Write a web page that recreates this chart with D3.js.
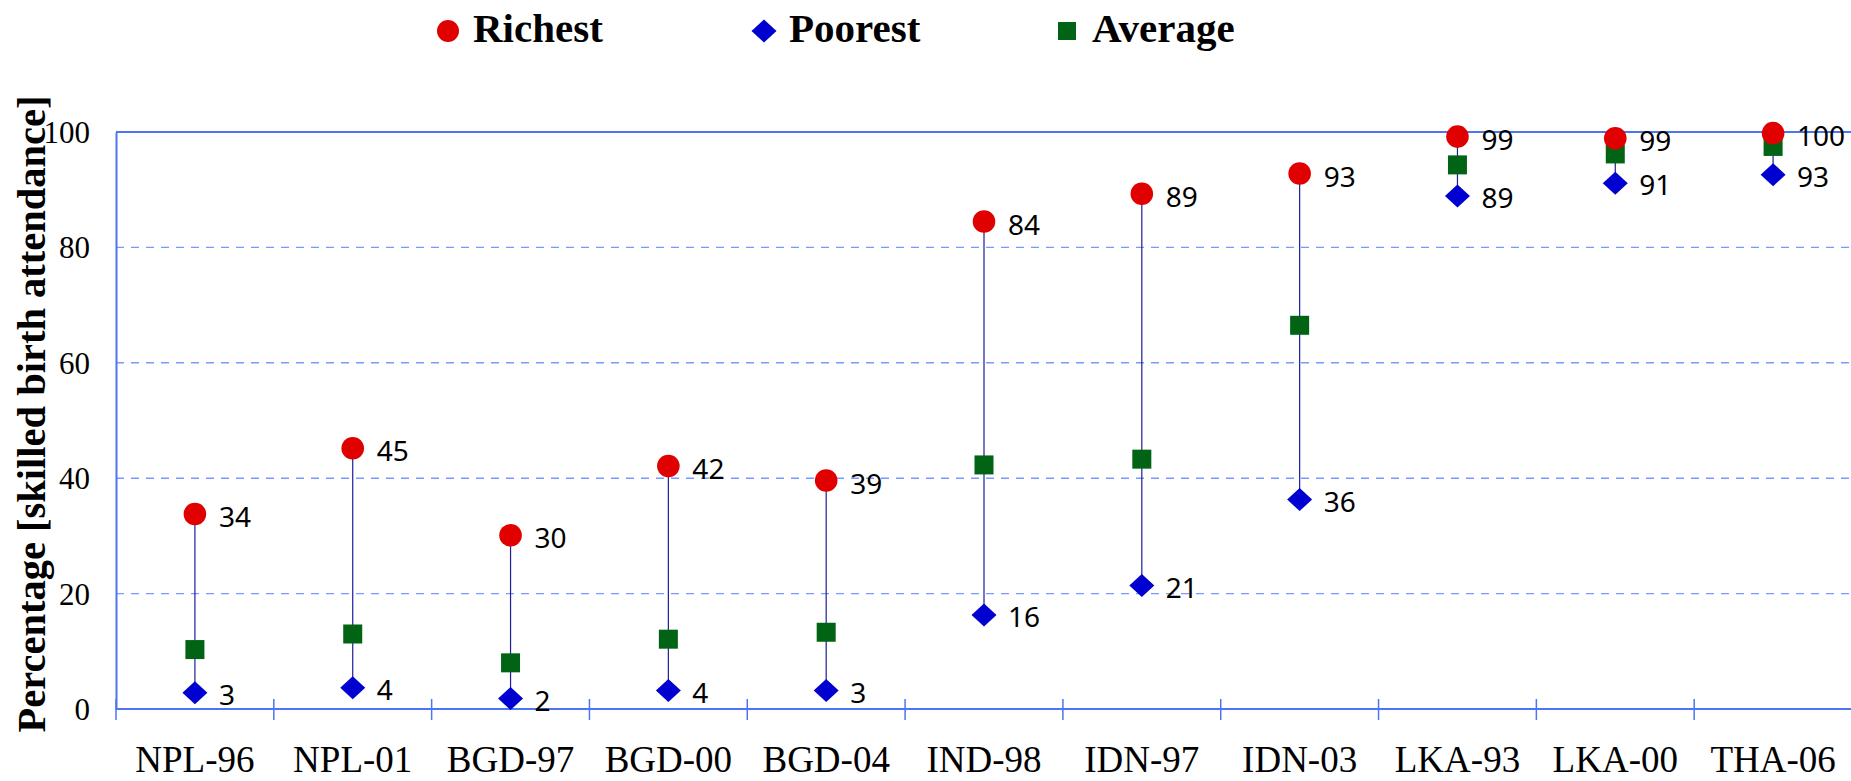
<!DOCTYPE html>
<html>
<head>
<meta charset="utf-8">
<script src="https://cdn.jsdelivr.net/npm/d3@7/dist/d3.min.js"></script>
<style>
  html, body { margin: 0; padding: 0; background: #fff; overflow: hidden; }
  svg { display: block; }
</style>
</head>
<body>
<svg id="chart" width="1851" height="781"></svg>
<script>
const categories = ["NPL-96","NPL-01","BGD-97","BGD-00","BGD-04","IND-98","IDN-97","IDN-03","LKA-93","LKA-00","THA-06"];
const richest = [33.8, 45.2, 30.1, 42.1, 39.6, 84.5, 89.3, 92.8, 99.2, 98.9, 99.8];
const poorest = [2.8, 3.7, 1.8, 3.2, 3.2, 16.3, 21.4, 36.3, 88.9, 91.1, 92.6];
const average = [10.3, 13.0, 8.0, 12.1, 13.3, 42.3, 43.3, 66.5, 94.3, 96.2, 97.5];
const richestLabels = ["34","45","30","42","39","84","89","93","99","99","100"];
const poorestLabels = ["3","4","2","4","3","16","21","36","89","91","93"];
const yTicks = [0, 20, 40, 60, 80, 100];
const seriesNames = ["Richest", "Poorest", "Average"];

const svg = d3.select("#chart");
const plotLeft = 116, plotRight = 1852, plotTop = 132, plotBottom = 709;

const x = d3.scaleBand().domain(categories).range([plotLeft, plotRight]).padding(0);
const y = d3.scaleLinear().domain([0, 100]).range([plotBottom, plotTop]);

const serif = "'Liberation Serif', 'Times New Roman', serif";
const sans = "'Noto Sans', 'Open Sans', sans-serif";
const axisColor = "#4d74f2";
const gridColor = "#7a99ff";

// gridlines
svg.append("g").selectAll("line").data(yTicks.filter(d => d > 0 && d < 100)).join("line")
  .attr("x1", plotLeft).attr("x2", plotRight)
  .attr("y1", d => y(d)).attr("y2", d => y(d))
  .attr("stroke", gridColor).attr("stroke-width", 1.4)
  .attr("stroke-dasharray", "8,7");

// top border
svg.append("line").attr("x1", plotLeft).attr("x2", plotRight).attr("y1", y(100)).attr("y2", y(100))
  .attr("stroke", axisColor).attr("stroke-width", 2);

// y axis
const yAxis = d3.axisLeft(y).tickValues(yTicks).tickSize(0).tickPadding(26);
const gy = svg.append("g").attr("transform", `translate(${plotLeft},0)`).call(yAxis);
gy.select(".domain").attr("stroke", axisColor).attr("stroke-width", 2);
gy.selectAll("text").attr("font-family", serif).attr("font-size", 31).attr("fill", "#000").attr("dy", "0.34em");

// x axis
const xAxis = d3.axisBottom(x).tickSize(0).tickPadding(0);
const gx = svg.append("g").attr("transform", `translate(0,${plotBottom})`).call(xAxis);
gx.select(".domain").remove();
gx.append("line").attr("x1", plotLeft).attr("x2", plotRight).attr("y1", 0).attr("y2", 0)
  .attr("stroke", axisColor).attr("stroke-width", 2);
gx.selectAll(".tick text").attr("font-family", serif).attr("font-size", 37).attr("fill", "#000")
  .attr("y", 63).attr("dy", 0);
const bounds = categories.map(c => x(c)).concat([plotRight]);
gx.append("g").selectAll("line").data(bounds).join("line")
  .attr("x1", d => d).attr("x2", d => d).attr("y1", -10).attr("y2", 11)
  .attr("stroke", axisColor).attr("stroke-width", 1.5);

// y title
svg.append("text")
  .attr("transform", `translate(45,${414}) rotate(-90)`)
  .attr("text-anchor", "middle")
  .attr("font-family", serif).attr("font-weight", "bold").attr("font-size", 40.5)
  .text("Percentage [skilled birth attendance]");

const cx = i => x(categories[i]) + x.bandwidth() / 2;
const idx = d3.range(categories.length);

// range lines
svg.append("g").selectAll("line").data(idx).join("line")
  .attr("x1", cx).attr("x2", cx)
  .attr("y1", i => y(richest[i])).attr("y2", i => y(poorest[i]))
  .attr("stroke", "#1e1e98").attr("stroke-width", 1.2);

const red = "#e00000", blue = "#0000d0", green = "#006414";
const diamond = (s) => `M0,${-s*0.46} L${s*0.5},0 L0,${s*0.46} L${-s*0.5},0 Z`;

svg.append("g").selectAll("rect").data(idx).join("rect")
  .attr("x", i => cx(i) - 9.5).attr("y", i => y(average[i]) - 9.5)
  .attr("width", 19).attr("height", 19).attr("fill", green);

svg.append("g").selectAll("path").data(idx).join("path")
  .attr("transform", i => `translate(${cx(i)},${y(poorest[i])})`)
  .attr("d", diamond(25)).attr("fill", blue);

svg.append("g").selectAll("circle").data(idx).join("circle")
  .attr("cx", cx).attr("cy", i => y(richest[i])).attr("r", 11.3).attr("fill", red);

svg.append("g").selectAll("text").data(idx).join("text")
  .attr("x", i => cx(i) + 24).attr("y", i => y(richest[i]) + 3)
  .attr("dy", "0.36em")
  .attr("font-family", sans).attr("font-size", 28).attr("fill", "#000")
  .text(i => richestLabels[i]);
svg.append("g").selectAll("text").data(idx).join("text")
  .attr("x", i => cx(i) + 24).attr("y", i => y(poorest[i]) + 2)
  .attr("dy", "0.36em")
  .attr("font-family", sans).attr("font-size", 28).attr("fill", "#000")
  .text(i => poorestLabels[i]);

// legend
const leg = svg.append("g");
const legX = [448, 764, 1067];
leg.append("circle").attr("cx", legX[0]).attr("cy", 31).attr("r", 11).attr("fill", red);
leg.append("path").attr("transform", `translate(${legX[1]},31)`).attr("d", diamond(25)).attr("fill", blue);
leg.append("rect").attr("x", legX[2] - 9).attr("y", 22).attr("width", 18).attr("height", 18).attr("fill", green);
leg.selectAll("text").data(seriesNames).join("text")
  .attr("x", (d, i) => legX[i] + 25).attr("y", 42)
  .attr("font-family", serif).attr("font-weight", "bold").attr("font-size", 41)
  .attr("fill", "#000")
  .text(d => d);
</script>
</body>
</html>
